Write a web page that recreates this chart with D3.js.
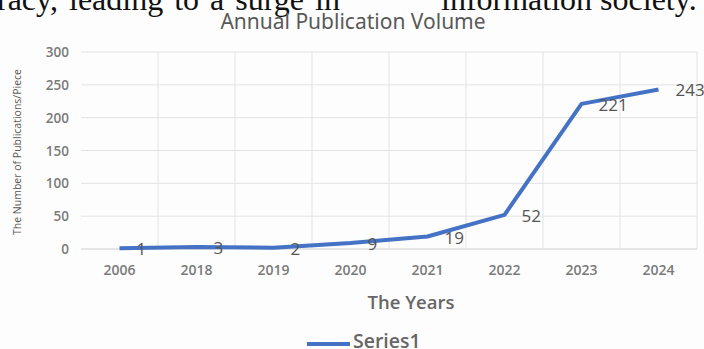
<!DOCTYPE html>
<html lang="en">
<head>
    <meta charset="UTF-8">
    <title>Annual Publication Volume</title>
    <script src="https://d3js.org/d3.v7.min.js"></script>
    <style>
        body { margin: 0; background: #fdfdfd; overflow: hidden; }
        svg { display: block; }
        .tick-label { font-family: "Open Sans", sans-serif; font-weight: 600; fill: #7a7a7a; }
        .data-label { font-family: "Open Sans", sans-serif; font-size: 17px; fill: #555; }
        .doc-text { font-family: "Liberation Serif", serif; font-size: 32px; fill: #111; }
    </style>
</head>
<body>
    <svg width="704" height="349"></svg>
    <script>
        const years = ["2006", "2018", "2019", "2020", "2021", "2022", "2023", "2024"];
        const volumes = [1, 3, 2, 9, 19, 52, 221, 243];
        const yTicks = [0, 50, 100, 150, 200, 250, 300];

        const data = years.map((y, i) => ({ year: y, value: volumes[i] }));

        const plot = { left: 81, right: 697, top: 52, bottom: 249 };
        const svg = d3.select("svg");

        // clipped line of document text above the chart
        svg.append("text")
            .attr("class", "doc-text")
            .attr("x", -3).attr("y", 10)
            .style("word-spacing", "3px")
            .text("racy, leading to a surge in");
        svg.append("text")
            .attr("class", "doc-text")
            .attr("x", 441).attr("y", 10)
            .text("information society.");

        const x = d3.scaleBand()
            .domain(years)
            .range([plot.left, plot.right]);
        const y = d3.scaleLinear()
            .domain([0, 300])
            .range([plot.bottom, plot.top]);

        // horizontal grid
        svg.append("g")
            .selectAll("line")
            .data(yTicks)
            .enter()
            .append("line")
            .attr("x1", plot.left).attr("x2", plot.right)
            .attr("y1", d => y(d)).attr("y2", d => y(d))
            .attr("stroke", d => d === 0 ? "#cfcfcf" : "#e3e3e3")
            .attr("stroke-width", 1);

        // vertical grid at band edges
        svg.append("g")
            .selectAll("line")
            .data(years.slice(1).concat(["end"]))
            .enter()
            .append("line")
            .attr("x1", d => d === "end" ? plot.right : x(d))
            .attr("x2", d => d === "end" ? plot.right : x(d))
            .attr("y1", plot.top).attr("y2", plot.bottom)
            .attr("stroke", "#e3e3e3")
            .attr("stroke-width", 1);

        // y tick labels
        svg.append("g")
            .selectAll("text")
            .data(yTicks)
            .enter()
            .append("text")
            .attr("class", "tick-label")
            .style("font-size", "13.5px")
            .attr("x", 69)
            .attr("y", d => y(d) + 5)
            .attr("text-anchor", "end")
            .text(d => d);

        // x tick labels
        svg.append("g")
            .selectAll("text")
            .data(years)
            .enter()
            .append("text")
            .attr("class", "tick-label")
            .style("font-size", "14px")
            .attr("x", d => x(d) + x.bandwidth() / 2)
            .attr("y", 275)
            .attr("text-anchor", "middle")
            .text(d => d);

        const line = d3.line()
            .x(d => x(d.year) + x.bandwidth() / 2)
            .y(d => y(d.value));

        svg.append("path")
            .datum(data)
            .attr("d", line)
            .attr("fill", "none")
            .attr("stroke", "#4472c4")
            .attr("stroke-width", 4)
            .attr("stroke-linejoin", "round");

        svg.append("g")
            .selectAll("text")
            .data(data)
            .enter()
            .append("text")
            .attr("class", "data-label")
            .attr("x", d => x(d.year) + x.bandwidth() / 2 + 17)
            .attr("y", d => y(d.value) + 7)
            .text(d => d.value);

        // title
        svg.append("text")
            .attr("x", 353).attr("y", 29)
            .attr("text-anchor", "middle")
            .style("font-family", "'Noto Sans', sans-serif")
            .style("font-size", "21px")
            .style("fill", "#595959")
            .text("Annual Publication Volume");

        // axis titles
        svg.append("text")
            .attr("transform", "translate(21,152) rotate(-90)")
            .attr("text-anchor", "middle")
            .style("font-family", "'Open Sans', sans-serif")
            .style("font-size", "10.5px")
            .style("fill", "#595959")
            .text("The Number of Publications/Piece");

        svg.append("text")
            .attr("x", 411).attr("y", 309)
            .attr("text-anchor", "middle")
            .style("font-family", "'Open Sans', sans-serif")
            .style("font-size", "18.5px")
            .style("font-weight", 600)
            .style("fill", "#666")
            .text("The Years");

        // legend
        svg.append("line")
            .attr("x1", 307).attr("x2", 350)
            .attr("y1", 344).attr("y2", 344)
            .attr("stroke", "#4472c4")
            .attr("stroke-width", 4);
        svg.append("text")
            .attr("x", 353).attr("y", 348)
            .style("font-family", "'Open Sans', sans-serif")
            .style("font-size", "19.5px")
            .style("font-weight", 600)
            .style("fill", "#666")
            .text("Series1");
    </script>
</body>
</html>
